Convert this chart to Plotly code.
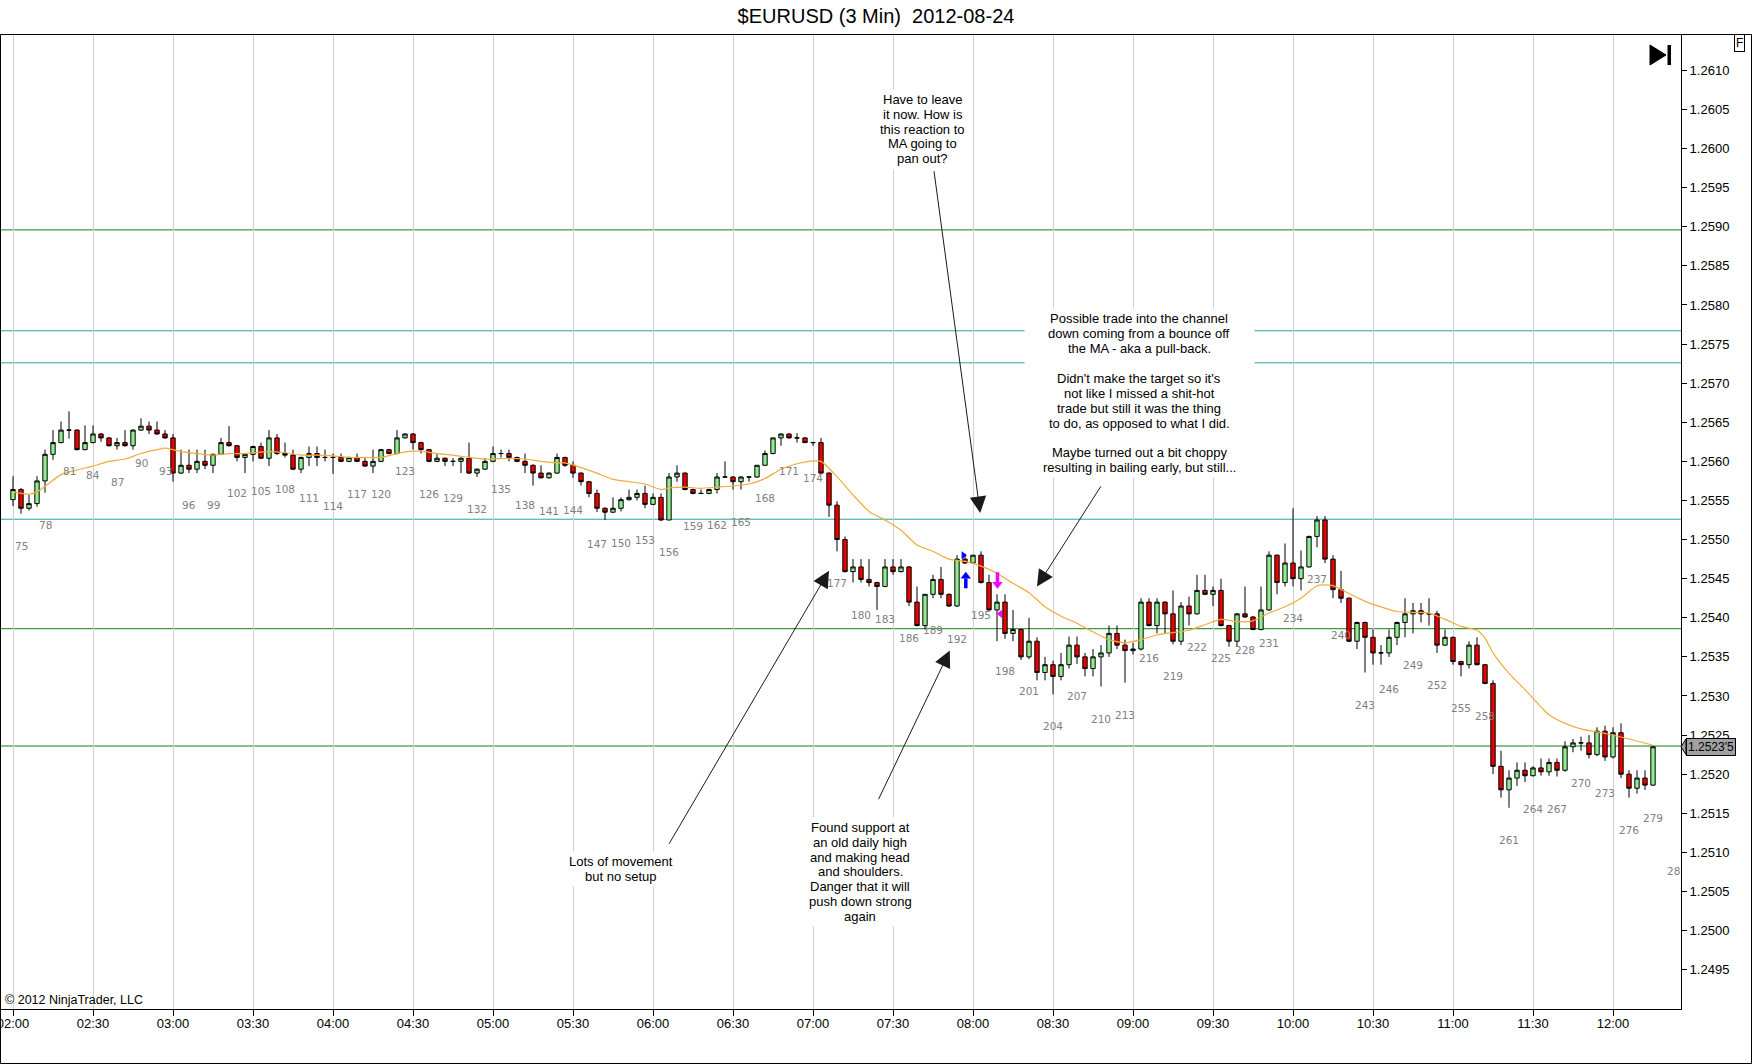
import plotly.graph_objects as go

# 3 min bars, numbered like the bar counter on the chart
bars = list(range(74, 280))

bar_open = [
    1.25551, 1.25564, 1.25540, 1.25546, 1.25575, 1.25609, 1.25624, 1.25640, 1.25640, 1.25615,
    1.25624, 1.25635, 1.25630, 1.25620, 1.25624, 1.25620, 1.25640, 1.25645, 1.25640, 1.25635,
    1.25630, 1.25585, 1.25595, 1.25590, 1.25600, 1.25595, 1.25609, 1.25624, 1.25620, 1.25605,
    1.25609, 1.25619, 1.25604, 1.25630, 1.25610, 1.25608, 1.25590, 1.25605, 1.25610, 1.25605,
    1.25605, 1.25605, 1.25600, 1.25605, 1.25600, 1.25594, 1.25600, 1.25615, 1.25610, 1.25630,
    1.25635, 1.25624, 1.25615, 1.25600, 1.25604, 1.25600, 1.25600, 1.25604, 1.25585, 1.25590,
    1.25600, 1.25610, 1.25610, 1.25605, 1.25600, 1.25595, 1.25585, 1.25579, 1.25585, 1.25605,
    1.25595, 1.25585, 1.25574, 1.25559, 1.25540, 1.25535, 1.25540, 1.25551, 1.25554, 1.25559,
    1.25545, 1.25554, 1.25525, 1.25580, 1.25585, 1.25564, 1.25559, 1.25559, 1.25564, 1.25580,
    1.25580, 1.25574, 1.25580, 1.25580, 1.25595, 1.25610, 1.25630, 1.25635, 1.25630, 1.25630,
    1.25624, 1.25624, 1.25585, 1.25544, 1.25500, 1.25459, 1.25465, 1.25449, 1.25445, 1.25440,
    1.25465, 1.25459, 1.25465, 1.25420, 1.25390, 1.25430, 1.25449, 1.25430, 1.25415, 1.25475,
    1.25470, 1.25480, 1.25445, 1.25410, 1.25420, 1.25380, 1.25385, 1.25350, 1.25370, 1.25330,
    1.25340, 1.25325, 1.25340, 1.25365, 1.25350, 1.25335, 1.25350, 1.25355, 1.25380, 1.25365,
    1.25358, 1.25360, 1.25420, 1.25390, 1.25420, 1.25405, 1.25370, 1.25415, 1.25405, 1.25435,
    1.25430, 1.25435, 1.25390, 1.25370, 1.25405, 1.25401, 1.25385, 1.25410, 1.25480, 1.25445,
    1.25470, 1.25450, 1.25465, 1.25504, 1.25525, 1.25475, 1.25436, 1.25425, 1.25370, 1.25394,
    1.25375, 1.25355, 1.25355, 1.25375, 1.25394, 1.25405, 1.25409, 1.25405, 1.25405, 1.25365,
    1.25375, 1.25344, 1.25340, 1.25365, 1.25340, 1.25316, 1.25210, 1.25180, 1.25195, 1.25205,
    1.25198, 1.25208, 1.25203, 1.25215, 1.25205, 1.25235, 1.25240, 1.25240, 1.25225, 1.25255,
    1.25222, 1.25253, 1.25200, 1.25182, 1.25195, 1.25186,
]
bar_high = [
    1.25581, 1.25566, 1.25557, 1.25581, 1.25615, 1.25640, 1.25651, 1.25664, 1.25641, 1.25646,
    1.25646, 1.25636, 1.25631, 1.25630, 1.25640, 1.25641, 1.25655, 1.25651, 1.25651, 1.25640,
    1.25635, 1.25615, 1.25615, 1.25615, 1.25615, 1.25610, 1.25630, 1.25645, 1.25621, 1.25610,
    1.25620, 1.25624, 1.25640, 1.25635, 1.25624, 1.25615, 1.25606, 1.25619, 1.25619, 1.25615,
    1.25610, 1.25610, 1.25606, 1.25610, 1.25604, 1.25615, 1.25616, 1.25616, 1.25640, 1.25636,
    1.25636, 1.25625, 1.25616, 1.25610, 1.25605, 1.25604, 1.25605, 1.25624, 1.25591, 1.25604,
    1.25619, 1.25615, 1.25615, 1.25606, 1.25610, 1.25596, 1.25595, 1.25586, 1.25610, 1.25606,
    1.25600, 1.25586, 1.25575, 1.25564, 1.25541, 1.25554, 1.25554, 1.25564, 1.25564, 1.25569,
    1.25559, 1.25559, 1.25585, 1.25595, 1.25586, 1.25565, 1.25564, 1.25565, 1.25585, 1.25600,
    1.25581, 1.25581, 1.25581, 1.25595, 1.25614, 1.25630, 1.25636, 1.25636, 1.25636, 1.25631,
    1.25625, 1.25630, 1.25586, 1.25549, 1.25504, 1.25475, 1.25475, 1.25475, 1.25446, 1.25475,
    1.25475, 1.25475, 1.25466, 1.25440, 1.25430, 1.25455, 1.25465, 1.25431, 1.25480, 1.25482,
    1.25480, 1.25485, 1.25455, 1.25430, 1.25430, 1.25410, 1.25386, 1.25400, 1.25375, 1.25350,
    1.25345, 1.25355, 1.25376, 1.25376, 1.25355, 1.25360, 1.25365, 1.25390, 1.25390, 1.25372,
    1.25368, 1.25425, 1.25425, 1.25425, 1.25421, 1.25435, 1.25420, 1.25427, 1.25455, 1.25455,
    1.25440, 1.25450, 1.25391, 1.25406, 1.25440, 1.25402, 1.25440, 1.25485, 1.25481, 1.25495,
    1.25540, 1.25486, 1.25505, 1.25530, 1.25530, 1.25480, 1.25460, 1.25426, 1.25395, 1.25395,
    1.25385, 1.25365, 1.25385, 1.25395, 1.25425, 1.25419, 1.25419, 1.25425, 1.25409, 1.25385,
    1.25376, 1.25345, 1.25370, 1.25375, 1.25341, 1.25320, 1.25230, 1.25205, 1.25215, 1.25215,
    1.25210, 1.25220, 1.25220, 1.25220, 1.25242, 1.25245, 1.25248, 1.25250, 1.25260, 1.25262,
    1.25260, 1.25265, 1.25205, 1.25205, 1.25205, 1.25236,
]
bar_low = [
    1.25543, 1.25533, 1.25537, 1.25542, 1.25560, 1.25602, 1.25623, 1.25629, 1.25614, 1.25614,
    1.25623, 1.25625, 1.25619, 1.25615, 1.25619, 1.25615, 1.25639, 1.25635, 1.25634, 1.25629,
    1.25574, 1.25584, 1.25585, 1.25585, 1.25590, 1.25585, 1.25608, 1.25619, 1.25600, 1.25585,
    1.25600, 1.25603, 1.25594, 1.25608, 1.25605, 1.25589, 1.25585, 1.25594, 1.25594, 1.25600,
    1.25584, 1.25599, 1.25599, 1.25599, 1.25593, 1.25585, 1.25599, 1.25609, 1.25609, 1.25629,
    1.25615, 1.25610, 1.25599, 1.25599, 1.25594, 1.25594, 1.25585, 1.25584, 1.25580, 1.25589,
    1.25599, 1.25605, 1.25600, 1.25599, 1.25585, 1.25569, 1.25578, 1.25578, 1.25584, 1.25593,
    1.25579, 1.25569, 1.25554, 1.25535, 1.25525, 1.25534, 1.25536, 1.25550, 1.25550, 1.25540,
    1.25544, 1.25524, 1.25525, 1.25574, 1.25563, 1.25558, 1.25558, 1.25558, 1.25559, 1.25579,
    1.25564, 1.25564, 1.25574, 1.25579, 1.25594, 1.25609, 1.25620, 1.25629, 1.25624, 1.25624,
    1.25620, 1.25584, 1.25529, 1.25485, 1.25458, 1.25445, 1.25445, 1.25440, 1.25410, 1.25439,
    1.25455, 1.25458, 1.25415, 1.25389, 1.25385, 1.25425, 1.25425, 1.25414, 1.25414, 1.25469,
    1.25469, 1.25444, 1.25409, 1.25370, 1.25373, 1.25370, 1.25346, 1.25347, 1.25320, 1.25320,
    1.25302, 1.25320, 1.25335, 1.25341, 1.25325, 1.25325, 1.25312, 1.25350, 1.25360, 1.25317,
    1.25353, 1.25358, 1.25389, 1.25380, 1.25380, 1.25366, 1.25365, 1.25390, 1.25404, 1.25429,
    1.25415, 1.25389, 1.25363, 1.25363, 1.25400, 1.25384, 1.25384, 1.25409, 1.25430, 1.25440,
    1.25440, 1.25435, 1.25464, 1.25490, 1.25470, 1.25425, 1.25419, 1.25369, 1.25360, 1.25330,
    1.25340, 1.25340, 1.25350, 1.25365, 1.25375, 1.25380, 1.25394, 1.25390, 1.25355, 1.25364,
    1.25340, 1.25325, 1.25335, 1.25339, 1.25315, 1.25200, 1.25170, 1.25157, 1.25185, 1.25190,
    1.25197, 1.25198, 1.25198, 1.25197, 1.25203, 1.25228, 1.25230, 1.25220, 1.25223, 1.25217,
    1.25220, 1.25195, 1.25170, 1.25175, 1.25180, 1.25185,
]
bar_close = [
    1.25564, 1.25540, 1.25546, 1.25575, 1.25609, 1.25624, 1.25640, 1.25640, 1.25615, 1.25624,
    1.25635, 1.25630, 1.25620, 1.25624, 1.25620, 1.25640, 1.25645, 1.25640, 1.25635, 1.25630,
    1.25585, 1.25595, 1.25590, 1.25600, 1.25595, 1.25609, 1.25624, 1.25620, 1.25605, 1.25609,
    1.25619, 1.25604, 1.25630, 1.25610, 1.25608, 1.25590, 1.25605, 1.25610, 1.25605, 1.25605,
    1.25605, 1.25600, 1.25605, 1.25600, 1.25594, 1.25600, 1.25615, 1.25610, 1.25630, 1.25635,
    1.25624, 1.25615, 1.25600, 1.25604, 1.25600, 1.25600, 1.25604, 1.25585, 1.25590, 1.25600,
    1.25610, 1.25610, 1.25605, 1.25600, 1.25595, 1.25585, 1.25579, 1.25585, 1.25605, 1.25595,
    1.25585, 1.25574, 1.25559, 1.25540, 1.25535, 1.25540, 1.25551, 1.25554, 1.25559, 1.25545,
    1.25554, 1.25525, 1.25580, 1.25585, 1.25564, 1.25559, 1.25559, 1.25564, 1.25580, 1.25580,
    1.25574, 1.25580, 1.25580, 1.25595, 1.25610, 1.25630, 1.25635, 1.25630, 1.25630, 1.25624,
    1.25624, 1.25585, 1.25544, 1.25500, 1.25459, 1.25465, 1.25449, 1.25445, 1.25440, 1.25465,
    1.25459, 1.25465, 1.25420, 1.25390, 1.25430, 1.25449, 1.25430, 1.25415, 1.25475, 1.25470,
    1.25480, 1.25445, 1.25410, 1.25420, 1.25380, 1.25385, 1.25350, 1.25370, 1.25330, 1.25340,
    1.25325, 1.25340, 1.25365, 1.25350, 1.25335, 1.25350, 1.25355, 1.25380, 1.25365, 1.25358,
    1.25360, 1.25420, 1.25390, 1.25420, 1.25405, 1.25370, 1.25415, 1.25405, 1.25435, 1.25430,
    1.25435, 1.25390, 1.25370, 1.25405, 1.25401, 1.25385, 1.25410, 1.25480, 1.25445, 1.25470,
    1.25450, 1.25465, 1.25504, 1.25525, 1.25475, 1.25436, 1.25425, 1.25370, 1.25394, 1.25375,
    1.25355, 1.25355, 1.25375, 1.25394, 1.25405, 1.25409, 1.25405, 1.25405, 1.25365, 1.25375,
    1.25344, 1.25340, 1.25365, 1.25340, 1.25316, 1.25210, 1.25180, 1.25195, 1.25205, 1.25198,
    1.25208, 1.25203, 1.25215, 1.25205, 1.25235, 1.25240, 1.25240, 1.25225, 1.25255, 1.25222,
    1.25253, 1.25200, 1.25182, 1.25195, 1.25186, 1.25235,
]

# moving average
ma_bars = [
    74, 76, 77, 78, 80, 82, 84, 86, 88, 90, 92, 93, 94, 95, 97, 99, 101, 103, 106, 108,
    110, 112, 114, 116, 118, 120, 122, 124, 125, 127, 129, 131, 133, 136, 138, 140, 142, 143, 145, 147,
    149, 151, 153, 155, 156, 158, 160, 162, 164, 166, 168, 170, 172, 174, 175, 177, 179, 181, 183, 185,
    187, 189, 191, 193, 195, 197, 199, 201, 203, 205, 207, 209, 211, 213, 215, 217, 219, 221, 223, 225,
    227, 229, 231, 233, 235, 237, 238, 239, 241, 243, 245, 247, 249, 251, 253, 255, 257, 258, 259, 261,
    263, 265, 266, 268, 270, 273, 276, 279,
]
ma_values = [
    1.25561, 1.25558, 1.25561, 1.25568, 1.25583, 1.25589, 1.25594, 1.25600, 1.25603, 1.25610,
    1.25615, 1.25617, 1.25615, 1.256125, 1.25610, 1.25608, 1.25610, 1.25610, 1.256125, 1.25611,
    1.25608, 1.25608, 1.25607, 1.25605, 1.25605, 1.25605, 1.25610, 1.25613, 1.25613, 1.25610,
    1.25608, 1.25605, 1.25603, 1.25604, 1.25603, 1.25600, 1.25598, 1.25598, 1.25592, 1.25585,
    1.25577, 1.25574, 1.25571, 1.25564, 1.25566, 1.25567, 1.255655, 1.25567, 1.255685, 1.25571,
    1.25578, 1.25590, 1.25597, 1.256005, 1.25600, 1.255805, 1.25557, 1.25536, 1.25525, 1.25512,
    1.25493, 1.25485, 1.25475, 1.25472, 1.25466, 1.25457, 1.25444, 1.25432, 1.25414, 1.25402,
    1.25393, 1.25382, 1.25372, 1.25368, 1.25372, 1.25378, 1.25381, 1.25384, 1.25391, 1.25398,
    1.25395, 1.25396, 1.25406, 1.25414, 1.25425, 1.25441, 1.25442, 1.25441, 1.25431, 1.25421,
    1.25414, 1.25408, 1.25407, 1.25406, 1.25398, 1.25389, 1.25384, 1.25374, 1.25355, 1.25329,
    1.25308, 1.25286, 1.25276, 1.25265, 1.25258, 1.25252, 1.25245, 1.25237,
]

# horizontal lines drawn on the chart
level_prices = [1.25896, 1.25767, 1.25726, 1.25526, 1.25386, 1.25236]
level_colors = ["#118011", "#26a69e", "#26a69e", "#26a69e", "#118011", "#118011"]

time_labels = ["02:00", "02:30", "03:00", "03:30", "04:00", "04:30", "05:00", "05:30", "06:00", "06:30",
               "07:00", "07:30", "08:00", "08:30", "09:00", "09:30", "10:00", "10:30", "11:00", "11:30", "12:00"]
price_ticks = [1.2495, 1.2500, 1.2505, 1.2510, 1.2515, 1.2520, 1.2525, 1.2530, 1.2535, 1.2540, 1.2545, 1.2550,
               1.2555, 1.2560, 1.2565, 1.2570, 1.2575, 1.2580, 1.2585, 1.2590, 1.2595, 1.2600, 1.2605, 1.2610]
last_price = 1.25235
last_price_text = "1.2523'5"

# trade executions
buy_bar, buy_price = 193.1, 1.25448
sell_bar, sell_price = 197.06, 1.25448

note_leave = ["Have to leave", "it now. How is", "this reaction to", "MA going to", "pan out?"]
note_trade = ["Possible trade into the channel", "down coming from a bounce off", "the MA - aka a pull-back.", "",
              "Didn't make the target so it's", "not like I missed a shit-hot", "trade but still it was the thing",
              "to do, as opposed to what I did.", "", "Maybe turned out a bit choppy",
              "resulting in bailing early, but still..."]
note_lots = ["Lots of movement", "but no setup"]
note_found = ["Found support at", "an old daily high", "and making head", "and shoulders.",
              "Danger that it will", "push down strong", "again"]

FONT = "Liberation Sans, Arial, sans-serif"
COUNTER_FONT = dict(family="DejaVu Sans", size=10.5, color="#808080")

fig = go.Figure()

fig.add_trace(go.Candlestick(
    x=bars, open=bar_open, high=bar_high, low=bar_low, close=bar_close,
    increasing=dict(fillcolor="#90ee90", line=dict(color="black", width=1)),
    decreasing=dict(fillcolor="#e60000", line=dict(color="black", width=1)),
    whiskerwidth=0, showlegend=False, hoverinfo="skip"))

fig.add_trace(go.Scatter(
    x=ma_bars, y=ma_values, mode="lines",
    line=dict(color="#f0ac3c", width=1.2, shape="spline", smoothing=0.6),
    showlegend=False, hoverinfo="skip"))

# execution markers (arrow = head + shaft, plus small flags)
fig.add_trace(go.Scatter(x=[buy_bar], y=[buy_price + 0.00005], mode="markers",
                         marker=dict(symbol="triangle-up", size=9, color="#0000ff"), showlegend=False, hoverinfo="skip"))
fig.add_trace(go.Scatter(x=[buy_bar], y=[buy_price - 0.00004], mode="markers",
                         marker=dict(symbol="line-ns", size=7, line=dict(color="#0000ff", width=3.5)),
                         showlegend=False, hoverinfo="skip"))
fig.add_trace(go.Scatter(x=[192.8], y=[1.25480], mode="markers",
                         marker=dict(symbol="triangle-right", size=7, color="#0000ff"), showlegend=False, hoverinfo="skip"))
fig.add_trace(go.Scatter(x=[sell_bar], y=[sell_price - 0.00005], mode="markers",
                         marker=dict(symbol="triangle-down", size=9, color="#ff00ff"), showlegend=False, hoverinfo="skip"))
fig.add_trace(go.Scatter(x=[sell_bar], y=[sell_price + 0.00004], mode="markers",
                         marker=dict(symbol="line-ns", size=7, line=dict(color="#ff00ff", width=3.5)),
                         showlegend=False, hoverinfo="skip"))
fig.add_trace(go.Scatter(x=[197.4], y=[1.25405], mode="markers",
                         marker=dict(symbol="triangle-left", size=7, color="#ff00ff"), showlegend=False, hoverinfo="skip"))

# next counter label, half hidden behind the price axis
fig.add_trace(go.Scatter(x=[282], y=[1.25075], mode="text", text=["282"], cliponaxis=True,
                         textfont=COUNTER_FONT, showlegend=False, hoverinfo="skip"))

shapes = []
for p, c in zip(level_prices, level_colors):
    shapes.append(dict(type="line", xref="paper", yref="y", x0=0, x1=1, y0=p, y1=p,
                       line=dict(color=c, width=1), layer="between"))

# outer frame of the chart panel
shapes.append(dict(type="rect", xref="paper", yref="paper", x0=0.5 / 1681, x1=1751.5 / 1681,
                   y0=(1009 - 1063.5) / 975, y1=1 - 0.5 / 975, line=dict(color="black", width=1)))
# "scroll to end" button
shapes.append(dict(type="path", xref="paper", yref="paper",
                   path="M 0.98156,0.98872 L 0.98156,0.96821 L 0.99108,0.97846 Z",
                   fillcolor="black", line=dict(color="black", width=1)))
shapes.append(dict(type="rect", xref="paper", yref="paper", x0=0.99197, x1=0.99405, y0=0.96821, y1=0.98872,
                   fillcolor="black", line=dict(color="black", width=0)))
# pointer of the last price tag
shapes.append(dict(type="path", xref="paper", yref="y",
                   path="M 1.0,%f L 1.00297,%f L 1.00297,%f Z" % (last_price, last_price + 0.0001, last_price - 0.0001),
                   fillcolor="#a0a0a0", line=dict(color="black", width=1)))

annotations = []

# bar counter, every third bar, under the bar low
for b, lo in zip(bars, bar_low):
    if b % 3 == 0:
        annotations.append(dict(x=b, y=lo, text=str(b), showarrow=False, yshift=-32, font=COUNTER_FONT))

LINE_H = 14.9


def add_note(lines, cx, cy, box_w):
    n = len(lines)
    annotations.append(dict(x=cx, y=cy, text="\u00a0", showarrow=False, width=box_w, height=n * LINE_H + 4,
                            bgcolor="white", borderpad=0, font=dict(size=4)))
    for i, t in enumerate(lines):
        if t == "":
            continue
        annotations.append(dict(x=cx, y=cy, text=t, showarrow=False, yshift=((n - 1) / 2 - i) * LINE_H,
                                font=dict(family=FONT, size=13, color="black")))


def add_arrow(tail_x, tail_y, tip_x, tip_y):
    annotations.append(dict(x=tip_x, y=tip_y, ax=tail_x, ay=tail_y, axref="x", ayref="y", text="",
                            showarrow=True, arrowhead=2, arrowsize=3.3, arrowwidth=1, arrowcolor="#1a1a1a"))


add_note(note_leave, 187.7, 1.26025, 96)
add_note(note_trade, 214.8, 1.25687, 229)
add_note(note_lots, 150.0, 1.25079, 116)
add_note(note_found, 179.9, 1.25075, 118)

add_arrow(189.1, 1.25973, 194.9, 1.25534)
add_arrow(210.1, 1.25570, 202.0, 1.25440)
add_arrow(155.9, 1.25109, 176.0, 1.25460)
add_arrow(182.1, 1.25166, 191.1, 1.25358)

annotations.append(dict(xref="paper", yref="y", x=1.00297, y=last_price, xanchor="left", yanchor="middle",
                        text=last_price_text, showarrow=False, bgcolor="#a0a0a0", bordercolor="black",
                        borderwidth=1, borderpad=1, font=dict(family=FONT, size=12, color="black")))
annotations.append(dict(xref="paper", yref="paper", x=1739 / 1681, y=(1009 - 43) / 975,
                        xanchor="center", yanchor="middle", text="F",
                        showarrow=False, bgcolor="white", bordercolor="black", borderwidth=1, borderpad=1,
                        font=dict(family=FONT, size=12, color="black")))
annotations.append(dict(xref="paper", yref="paper", x=3 / 1681, y=(1009 - 1000) / 975, xanchor="left",
                        yanchor="middle", text="\u00a9 2012 NinjaTrader, LLC", showarrow=False,
                        font=dict(family=FONT, size=12.5, color="black")))

fig.update_layout(
    width=1752, height=1064,
    margin=dict(l=0, r=71, t=34, b=55),
    paper_bgcolor="white", plot_bgcolor="white",
    title=dict(text="$EURUSD (3 Min)\u00a0\u00a02012-08-24", x=0.5, xref="container", xanchor="center",
               y=1 - 16 / 1064, yref="container", yanchor="middle",
               font=dict(family=FONT, size=20, color="black")),
    font=dict(family=FONT, size=13, color="black"),
    showlegend=False,
    shapes=shapes,
    annotations=annotations,
    boxgap=0.22,
)

fig.update_xaxes(
    range=[72.375, 282.5], rangeslider=dict(visible=False),
    tickvals=[74 + 10 * i for i in range(len(time_labels))], ticktext=time_labels,
    showgrid=True, gridcolor="#d0d0d0", gridwidth=1, zeroline=False,
    showline=True, linecolor="black", linewidth=1,
    ticks="outside", ticklen=6, tickcolor="black", ticklabeloverflow="allow", ticklabelstandoff=-4,
    tickfont=dict(family=FONT, size=13, color="black"), automargin=False,
)
fig.update_yaxes(
    side="right", range=[1.248997, 1.261465],
    tickvals=price_ticks, tickformat=".4f",
    showgrid=False, zeroline=False,
    showline=True, linecolor="black", linewidth=1,
    ticks="outside", ticklen=5, tickcolor="black",
    tickfont=dict(family=FONT, size=13, color="black"), automargin=False,
)

# page body has a default margin, drop it so the chart sits at the window corner
fig.write_html("out.html", config={"displayModeBar": False},
               post_script="document.body.style.margin='0';")
